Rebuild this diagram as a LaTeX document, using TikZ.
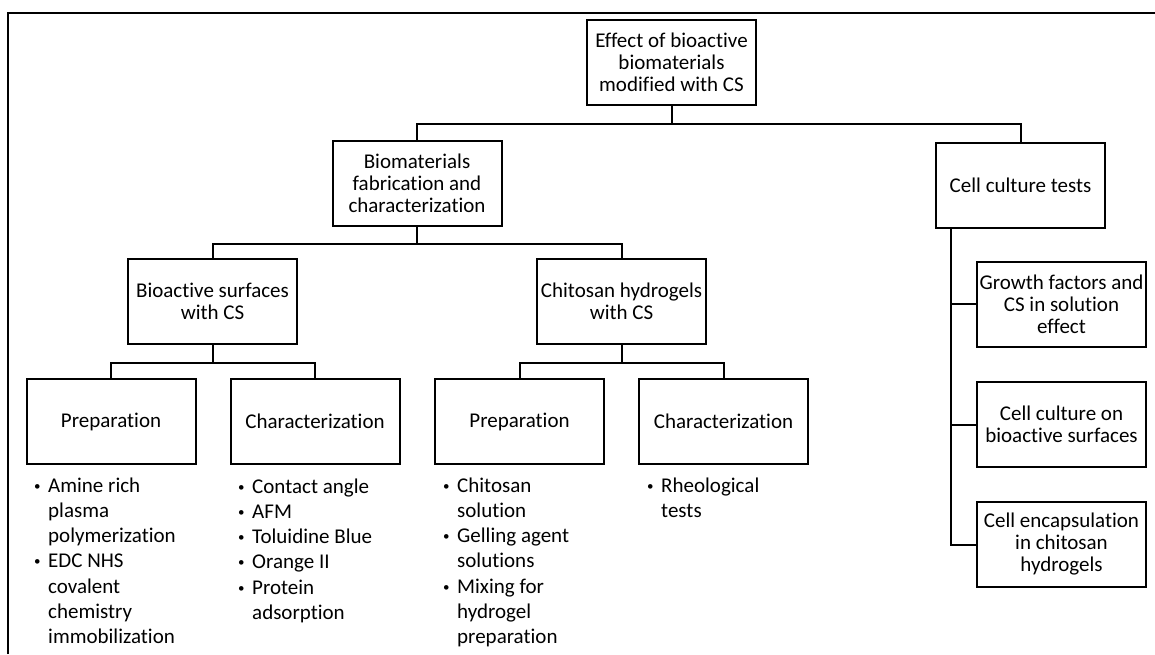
\documentclass[tikz,border=0pt]{standalone}
\usepackage{fontspec}
\setmainfont{Carlito}[Ligatures=NoCommon]
\usetikzlibrary{calc}
\newcommand\lbul{\makebox[22pt][l]{\hspace{8pt}\raisebox{2pt}{\fontsize{13}{13}\selectfont •}}}
\newcommand\lind{\hspace*{22pt}}
\begin{document}
\begin{tikzpicture}[x=1pt,y=-1pt,
  box/.style={draw, line width=2pt, minimum width=169pt, minimum height=85pt,
    inner sep=1pt, align=center, font=\fontsize{21}{22}\selectfont},
  conn/.style={line width=2pt},
  frame/.style={line width=2pt},
  bullets/.style={anchor=north west, inner sep=0pt, align=left,
    font=\fontsize{21}{25.2}\selectfont}]
\useasboundingbox (0,0) rectangle (1155,654);
% frame
\coordinate (fa) at (7.5,654);
\coordinate (fb) at (7.5,13);
\coordinate (fc) at (1155,13);
\draw[frame] (fa) -- (fb) -- (fc);
% boxes
\node[box] (top)  at (671.5,62.5) {Effect of bioactive\\biomaterials\\modified with CS};
\node[box] (bio)  at (417,183.5) {Biomaterials\\fabrication and\\characterization};
\node[box] (cell) at (1020.5,185) {Cell culture tests};
\node[box] (bas)  at (212.5,301.5) {Bioactive surfaces\\with CS};
\node[box] (chg)  at (621.5,301.5) {Chitosan hydrogels\\with CS};
\node[box] (prepa) at (111,421.5) {Preparation};
\node[box] (chara) at (315,421.5) {Characterization};
\node[box] (prepb) at (519.5,421.5) {Preparation};
\node[box] (charb) at (723.5,421.5) {Characterization};
\node[box] (gf)  at (1061.5,304) {Growth factors and\\CS in solution\\effect};
\node[box] (ccb) at (1061.5,424.5) {Cell culture on\\bioactive surfaces};
\node[box] (enc) at (1061.5,544.5) {Cell encapsulation\\in chitosan\\hydrogels};
% connectors
\coordinate (j1) at ($(top.south)+(0,18)$);
\draw[conn] (top.south) -- (j1);
\draw[conn] (bio.north) |- (j1) -| (cell.north);
\coordinate (j2) at ($(bio.south)+(0,17)$);
\draw[conn] (bio.south) -- (j2);
\draw[conn] (bas.north) |- (j2) -| (chg.north);
\coordinate (j3) at ($(bas.south)+(0,18)$);
\draw[conn] (bas.south) -- (j3);
\draw[conn] (prepa.north) |- (j3) -| (chara.north);
\coordinate (j4) at ($(chg.south)+(0,18)$);
\draw[conn] (chg.south) -- (j4);
\draw[conn] (prepb.north) |- (j4) -| (charb.north);
\coordinate (r0) at ($(cell.south west)+(16,0)$);
\draw[conn] (r0) |- (enc.west);
\draw[conn] (r0 |- gf.west) -- (gf.west);
\draw[conn] (r0 |- ccb.west) -- (ccb.west);
% bullet lists
\node[bullets] (la) at (26,476) {\rule{0pt}{16pt}\lbul Amine rich\\ \lind plasma\\ \lind polymerization\\ \lbul EDC NHS\\ \lind covalent\\ \lind chemistry\\ \lind immobilization};
\node[bullets] (lb) at (230,477) {\rule{0pt}{16pt}\lbul Contact angle\\ \lbul AFM\\ \lbul Toluidine Blue\\ \lbul Orange II\\ \lbul Protein\\ \lind adsorption};
\node[bullets] (lc) at (435,476) {\rule{0pt}{16pt}\lbul Chitosan\\ \lind solution\\ \lbul Gelling agent\\ \lind solutions\\ \lbul Mixing for\\ \lind hydrogel\\ \lind preparation};
\node[bullets] (ld) at (639,476) {\rule{0pt}{16pt}\lbul Rheological\\ \lind tests};
\end{tikzpicture}
\end{document}
